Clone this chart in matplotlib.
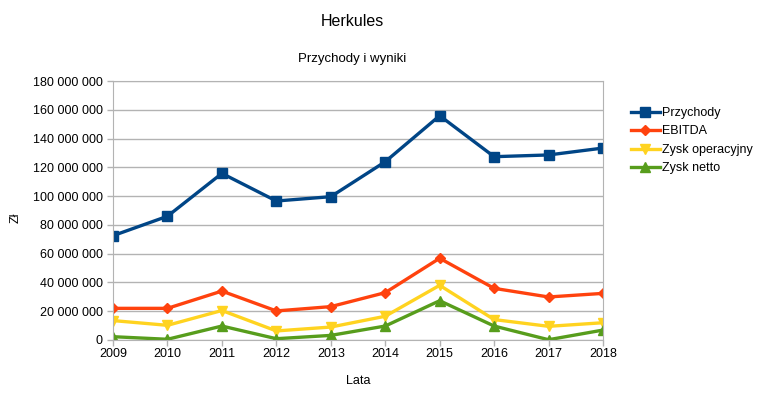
import matplotlib
matplotlib.use("Agg")
import matplotlib.pyplot as plt
from matplotlib.ticker import FuncFormatter, MultipleLocator

plt.rcParams['font.family'] = ['Liberation Sans', 'DejaVu Sans']

years = [2009, 2010, 2011, 2012, 2013, 2014, 2015, 2016, 2017, 2018]
przychody = [72.5, 86.0, 115.8, 96.6, 99.6, 123.9, 155.9, 127.4, 128.6, 133.4]
ebitda = [22.0, 22.0, 34.0, 20.2, 23.2, 32.9, 56.8, 35.9, 29.9, 32.4]
zysk_oper = [13.5, 10.2, 20.5, 6.3, 9.0, 16.5, 38.0, 14.2, 9.5, 12.0]
zysk_netto = [2.3, 0.5, 9.7, 0.9, 3.2, 9.7, 27.3, 9.7, 0.2, 6.9]

series = [
    ("Przychody", przychody, "#004586", "s"),
    ("EBITDA", ebitda, "#ff420e", "D"),
    ("Zysk operacyjny", zysk_oper, "#ffd320", "v"),
    ("Zysk netto", zysk_netto, "#579d1c", "^"),
]

fig = plt.figure(figsize=(7.7, 3.97), dpi=100)
ax = fig.add_axes([113/770, 1-340/397, (603-113)/770, (340-81)/397])

for name, vals, col, m in series:
    ms = 7 if m != "D" else 5.5
    ax.plot(years, [v * 1e6 for v in vals], color=col, lw=2.4, marker=m,
            markersize=ms, label=name)

ax.set_xlim(2009, 2018)
ax.set_ylim(0, 180e6)
ax.yaxis.set_major_locator(MultipleLocator(20e6))
ax.set_xticks(years)
ax.yaxis.set_major_formatter(FuncFormatter(lambda v, p: f"{int(round(v)):,}".replace(",", " ")))
ax.grid(axis='y', color='#b3b3b3', lw=1)
ax.set_axisbelow(True)
for s in ax.spines.values():
    s.set_color('#b3b3b3')
ax.tick_params(axis='both', colors='#b3b3b3', labelcolor='black', labelsize=9, length=4, width=1)
ax.tick_params(axis='x', pad=2)

fig.text(352/770, 1-21/397, "Herkules", ha='center', va='center', fontsize=11.5)
fig.text(352/770, 1-59/397, "Przychody i wyniki", ha='center', va='center', fontsize=9.5)
fig.text(358/770, 1-381/397, "Lata", ha='center', va='center', fontsize=9)
fig.text(16/770, 1-218/397, "Zł", ha='center', va='center', fontsize=9, rotation=90)

leg = fig.legend(loc='upper left', bbox_to_anchor=(631/770, 1-107/397), frameon=False,
                 fontsize=9, handlelength=2.3, handletextpad=0.2, labelspacing=0.52,
                 borderaxespad=0, borderpad=0)

fig.savefig("out.png", dpi=100)
